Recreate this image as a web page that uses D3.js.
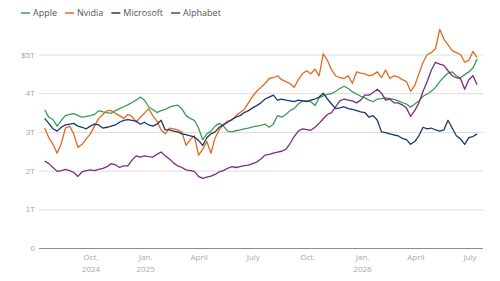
<!DOCTYPE html>
<html>
<head>
<meta charset="utf-8">
<script src="https://cdn.jsdelivr.net/npm/d3@7"></script>
<style>
  body { margin: 0; background: #fff; }
  svg { display: block; font-family: "Open Sans", "Noto Sans", sans-serif; }
</style>
</head>
<body>
<div id="chart"></div>
<script>
var svg_width = 500;
var svg_height = 281;

// weekly closes, market value in trillions of dollars
var start_date = new Date(2024, 6, 15);

var apple = [3.57,3.38,3.32,3.15,3.30,3.42,3.45,3.47,3.42,3.38,3.40,3.42,3.45,3.55,3.52,3.50,3.48,3.55,3.60,3.65,
  3.70,3.76,3.82,3.90,3.82,3.65,3.58,3.50,3.55,3.58,3.64,3.67,3.69,3.60,3.42,3.35,3.30,3.10,2.80,2.95,
  3.02,3.15,3.22,3.15,3.02,3.00,3.03,3.05,3.08,3.10,3.13,3.15,3.17,3.20,3.12,3.20,3.42,3.38,3.45,3.55,
  3.60,3.72,3.80,3.80,3.78,3.68,3.88,3.93,3.97,3.99,4.05,4.12,4.18,4.12,4.04,3.98,3.92,3.88,3.82,3.78,
  3.85,3.86,3.88,3.86,3.84,3.80,3.76,3.72,3.64,3.72,3.80,3.92,3.98,4.05,4.15,4.30,4.42,4.52,4.55,4.45,
  4.40,4.48,4.55,4.65,4.88];

var nvidia = [3.10,2.85,2.68,2.45,2.70,3.10,3.15,2.95,2.60,2.68,2.82,2.95,3.15,3.35,3.45,3.55,3.55,3.48,3.42,3.35,
  3.45,3.40,3.25,3.38,3.48,3.60,3.42,3.28,3.05,2.95,3.10,3.08,3.05,3.00,2.65,2.80,2.90,2.40,2.55,2.75,
  2.45,2.85,3.05,3.20,3.28,3.30,3.42,3.50,3.58,3.75,3.92,4.05,4.15,4.25,4.38,4.40,4.45,4.35,4.30,4.25,
  4.15,4.35,4.50,4.58,4.50,4.62,4.45,5.02,4.85,4.60,4.45,4.40,4.38,4.45,4.25,4.55,4.52,4.50,4.45,4.48,
  4.55,4.40,4.60,4.38,4.45,4.42,4.35,4.30,4.05,4.20,4.50,4.80,5.00,5.05,5.15,5.65,5.40,5.25,5.10,5.05,
  5.00,4.80,4.85,5.08,4.92];

var microsoft = [3.35,3.22,3.08,3.02,3.12,3.18,3.20,3.22,3.15,3.12,3.08,3.15,3.20,3.18,3.10,3.12,3.15,3.18,3.25,3.30,
  3.32,3.30,3.28,3.20,3.25,3.18,3.15,3.20,3.30,3.05,3.05,3.02,3.00,2.95,2.93,2.90,2.87,2.78,2.65,2.85,
  2.95,3.00,3.12,3.18,3.25,3.32,3.38,3.42,3.50,3.55,3.62,3.68,3.75,3.85,3.90,3.95,3.82,3.85,3.82,3.80,
  3.78,3.82,3.80,3.78,3.82,3.85,3.90,4.00,3.85,3.72,3.60,3.62,3.65,3.60,3.58,3.55,3.52,3.50,3.38,3.42,
  3.30,3.00,2.98,2.95,2.92,2.90,2.83,2.80,2.68,2.75,2.90,3.12,3.08,3.10,3.05,3.02,3.05,3.30,3.10,2.90,
  2.82,2.68,2.85,2.88,2.95];

var alphabet = [2.25,2.18,2.08,1.98,2.00,2.03,2.00,1.95,1.85,1.97,2.00,2.02,2.00,2.03,2.06,2.10,2.18,2.15,2.08,2.12,
  2.12,2.27,2.38,2.35,2.38,2.36,2.35,2.42,2.48,2.38,2.30,2.20,2.12,2.08,2.02,2.00,1.98,1.85,1.80,1.83,
  1.86,1.90,1.97,2.00,2.06,2.10,2.08,2.10,2.13,2.14,2.18,2.22,2.30,2.40,2.42,2.45,2.48,2.50,2.55,2.70,
  2.88,3.02,3.08,3.06,3.04,3.12,3.22,3.34,3.45,3.50,3.65,3.80,3.85,3.82,3.80,3.75,3.82,3.95,3.95,4.02,
  4.10,4.00,3.82,3.85,3.75,3.75,3.70,3.62,3.40,3.55,3.75,4.05,4.30,4.60,4.80,4.75,4.72,4.58,4.45,4.40,
  4.38,4.10,4.35,4.45,4.22];

var series_names = ["Apple", "Nvidia", "Microsoft", "Alphabet"];
var series_values = [apple, nvidia, microsoft, alphabet];
var series_colors = ["#3d9b55", "#e2691f", "#17396b", "#7d2b7f"];

var y_ticks = [0, 1, 2, 3, 4, 5];
var y_tick_labels = ["0", "1T", "2T", "3T", "4T", "$5T"];
var x_ticks = [new Date(2024, 9, 1), new Date(2025, 0, 1), new Date(2025, 3, 1), new Date(2025, 6, 1),
  new Date(2025, 9, 1), new Date(2026, 0, 1), new Date(2026, 3, 1), new Date(2026, 6, 1)];
var x_tick_labels = [["Oct.", "2024"], ["Jan.", "2025"], ["April"], ["July"], ["Oct."], ["Jan.", "2026"], ["April"], ["July"]];

var dates = apple.map((d, i) => d3.timeDay.offset(start_date, i * 7));

var x = d3.scaleTime()
    .domain([x_ticks[0], x_ticks[x_ticks.length - 1]])
    .range([91, 470]);

var y = d3.scaleLinear()
    .domain([0, 5])
    .range([248, 54.5]);

const svg = d3.select("#chart")
    .append("svg")
    .attr("width", svg_width)
    .attr("height", svg_height)
    .attr("viewBox", [0, 0, svg_width, svg_height]);

// gridlines + y labels
var yAxis = g => g
    .attr("transform", "translate(39,0)")
    .call(d3.axisLeft(y).tickValues(y_ticks).tickSize(-444).tickPadding(4)
        .tickFormat((d, i) => y_tick_labels[i]))
    .call(g => g.select(".domain").remove())
    .call(g => g.selectAll(".tick line")
        .attr("stroke", d => d === 0 ? "#8c8c8c" : "#dcdcdc")
        .attr("stroke-width", d => d === 0 ? 1.2 : 1))
    .call(g => g.selectAll(".tick text")
        .attr("fill", "#a8a8a8")
        .attr("font-size", "8px"));

svg.append("g").call(yAxis);

// x labels, no tick marks
var xLabels = svg.append("g")
    .selectAll("text")
    .data(x_ticks)
    .join("text")
      .attr("x", d => x(d))
      .attr("y", 260)
      .attr("text-anchor", "middle")
      .attr("fill", "#a8a8a8")
      .attr("font-size", "8px");

xLabels.selectAll("tspan")
    .data((d, i) => x_tick_labels[i])
    .join("tspan")
      .attr("x", function () { return d3.select(this.parentNode).attr("x"); })
      .attr("dy", (d, i) => i === 0 ? 0 : 12)
      .text(d => d);

var line = d3.line()
    .x((d, i) => x(dates[i]))
    .y(d => y(d));

svg.append("g")
    .selectAll("path")
    .data(series_values)
    .join("path")
      .attr("fill", "none")
      .attr("stroke", (d, i) => series_colors[i])
      .attr("stroke-width", 1.3)
      .attr("stroke-linejoin", "round")
      .attr("d", line);

// legend
var legend = svg.append("g").attr("transform", "translate(21,13)");
var lx = 0;
series_names.forEach(function (name, i) {
    var item = legend.append("g").attr("transform", "translate(" + lx + ",0)");
    item.append("line")
        .attr("x1", 0).attr("x2", 9)
        .attr("y1", 0).attr("y2", 0)
        .attr("stroke", series_colors[i])
        .attr("stroke-width", 1.5);
    var t = item.append("text")
        .attr("x", 12)
        .attr("y", 3.2)
        .attr("fill", "#555")
        .attr("font-size", "9px")
        .text(name);
    lx += 12 + t.node().getComputedTextLength() + 8;
});
</script>
</body>
</html>
